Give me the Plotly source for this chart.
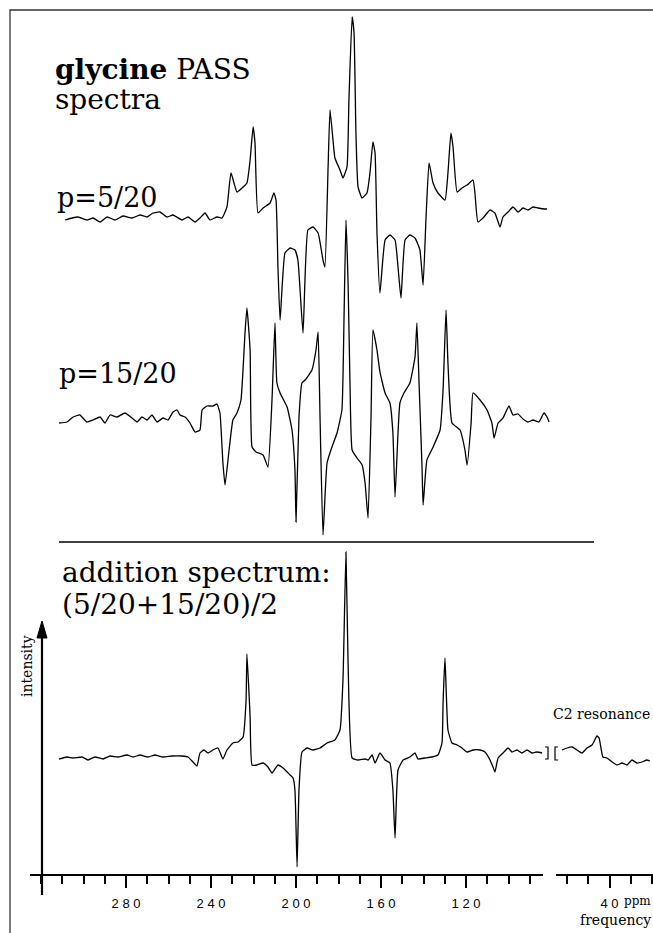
import plotly.graph_objects as go

W, H = 653, 933

# ---------------- data (ppm, intensity in arbitrary units) ----------------
# PASS spectrum p = 5/20 (top)
p5_ppm = [308.7, 305.4, 302.6, 298.4, 295.5, 292.2, 288.9, 285.2, 281.4, 277.2,
          273.4, 270.1, 267.3, 264.0, 260.7, 257.9, 253.7, 250.8, 247.5, 245.2,
          242.8, 240.5, 237.2, 234.8, 232.5, 230.6, 227.8, 225.4, 223.1, 221.6,
          220.2, 219.3, 217.9, 215.5, 212.2, 210.4, 209.4, 208.5, 207.5, 205.2,
          202.8, 200.5, 199.1, 196.7, 194.4, 192.0, 189.6, 187.3, 186.4, 184.9,
          184.0, 182.6, 181.7, 179.3, 177.9, 176.0, 175.1, 173.6, 172.7, 171.8,
          170.8, 168.9, 166.6, 165.2, 163.8, 162.8, 161.9, 160.5, 158.1, 155.8,
          153.4, 152.0, 150.6, 148.7, 146.4, 144.0, 141.7, 140.2, 138.8, 137.4,
          135.5, 133.2, 129.9, 128.5, 127.1, 126.1, 124.2, 121.9, 119.5, 116.7,
          115.8, 114.4, 112.0, 108.7, 106.4, 104.0, 102.6, 100.2, 97.9, 95.5,
          93.2, 90.8, 88.5, 86.1, 82.8, 81.9]
p5_int = [-2, 0, 1, -2, 0, -4, 1, -2, 2, 0,
          3, 1, 5, 6, 1, 3, -2, 1, -4, 0,
          5, -2, 1, 0, 11, 45, 26, 30, 35, 58,
          91, 75, 5, 10, 15, 25, 18, -49, -102, -35,
          -30, -32, -42, -115, -12, -9, -15, -42, -49, 51,
          108, 78, 60, 48, 40, 51, 118, 201, 185, 85,
          31, 20, 25, 45, 76, 65, -15, -75, -22, -17,
          -22, -49, -80, -22, -17, -20, -32, -67, 1, 55,
          35, 25, 18, 45, 85, 71, 26, 30, 33, 38,
          25, -4, 0, 8, 5, -9, 1, 6, 11, 6,
          10, 8, 11, 10, 9, 9]

# PASS spectrum p = 15/20 (middle)
p15_ppm = [311.5, 307.8, 304.9, 301.7, 298.4, 295.5, 292.2, 289.9, 287.5, 284.2,
           280.5, 277.2, 274.8, 272.5, 270.1, 267.8, 265.4, 262.6, 260.2, 257.9,
           256.0, 254.6, 252.2, 249.9, 247.5, 245.2, 244.2, 241.9, 239.1, 237.2,
           235.8, 234.4, 233.4, 231.5, 229.7, 227.8, 225.9, 224.0, 223.1, 221.6,
           220.7, 218.8, 215.5, 213.2, 211.3, 209.9, 209.0, 207.5, 204.2, 201.9,
           200.5, 200.0, 198.6, 197.2, 195.7, 192.5, 190.6, 189.6, 188.7, 187.3,
           185.4, 183.1, 180.7, 178.4, 177.4, 176.5, 175.5, 174.6, 173.6, 171.3,
           168.9, 167.5, 166.1, 164.7, 163.8, 161.9, 160.5, 158.1, 155.8, 154.4,
           153.4, 152.0, 151.1, 149.2, 146.4, 144.0, 143.1, 142.1, 140.7, 140.2,
           138.4, 135.5, 132.2, 130.8, 129.4, 128.5, 126.6, 122.8, 120.5, 119.5,
           117.6, 116.7, 113.4, 110.1, 107.8, 106.8, 104.9, 102.6, 99.8, 97.9,
           95.5, 93.2, 90.8, 88.5, 85.7, 83.3, 81.9, 80.9]
p15_int = [-1, 0, 5, 7, 0, 2, 5, -1, 7, 5,
           9, 4, 0, 5, 2, 7, 0, 4, 2, 10,
           12, 7, 5, -1, -10, -8, 12, 16, 16, 18,
           9, -41, -63, -28, 2, 9, 22, 89, 114, 72,
           -25, -30, -33, -45, 22, 99, 39, 29, 15, -8,
           -48, -100, 5, 39, 42, 52, 72, 90, 5, -113,
           -41, -25, -11, 12, 105, 202, 139, 39, -28, -36,
           -43, -61, -96, 5, 92, 72, 50, 29, 19, -11,
           -75, -11, 19, 29, 39, 65, 99, 39, -45, -83,
           -38, -25, -8, 32, 112, 59, -1, -8, -28, -43,
           -1, 29, 22, 12, -1, -16, -1, 4, 16, 7,
           8, 3, 0, 2, 0, 9, 5, 0]

# addition spectrum (5/20 + 15/20)/2, main region (bottom)
add_ppm = [311.5, 307.8, 304.9, 300.7, 297.9, 294.6, 290.8, 287.5, 283.8, 279.5,
           276.7, 273.4, 269.6, 266.4, 262.6, 258.4, 253.7, 250.8, 248.5, 246.6,
           245.2, 243.3, 241.4, 239.1, 236.7, 234.4, 232.5, 229.7, 227.3, 224.9,
           223.5, 223.1, 221.6, 220.7, 218.4, 215.5, 213.2, 211.3, 209.9, 208.5,
           206.1, 202.8, 201.4, 200.5, 199.5, 198.6, 197.2, 194.8, 192.0, 188.7,
           185.4, 181.7, 179.3, 177.9, 176.5, 175.5, 173.6, 170.8, 167.5, 166.1,
           164.2, 162.8, 160.5, 158.1, 155.8, 154.4, 153.4, 152.0, 149.6, 146.4,
           144.0, 142.6, 139.3, 136.0, 133.2, 131.3, 130.8, 129.9, 128.5, 126.6,
           124.2, 121.9, 119.5, 116.7, 113.4, 111.1, 108.7, 107.3, 106.4, 104.9,
           102.6, 100.2, 98.4, 96.0, 93.7, 91.3, 88.9, 86.6, 84.2]
add_int = [-2, 0, -1, 0, -3, 0, -2, 1, 0, 2,
           0, 2, 0, 2, 0, 1, 1, 0, -5, -9,
           4, 7, 4, 7, 9, -2, 7, 14, 15, 20,
           57, 103, 40, -8, -8, -6, -10, -16, -12, -8,
           -11, -18, -21, -33, -110, -33, 5, 9, 7, 9,
           14, 17, 27, 77, 205, 94, -1, -3, -2, -3,
           2, -6, 4, -3, -6, -33, -81, -13, -3, 0,
           4, -2, -1, 0, 2, 14, 54, 99, 27, 14,
           12, 9, 5, 7, 7, 5, -3, -10, -15, -1,
           4, 9, 5, 7, 4, 7, 4, 5, 4]

# addition spectrum, C2 region (after axis break)
c2_ppm = [62.4, 60.0, 57.6, 55.3, 52.9, 50.6, 48.2, 45.9, 44.9, 43.1,
          41.2, 38.8, 36.5, 34.1, 31.8, 29.4, 27.1, 24.7, 22.4, 21.0]
c2_int = [7, 9, 10, 7, 4, 9, 12, 21, 19, 0,
          -1, -5, -8, -6, -8, -3, -6, -5, -3, -4]

main_ticks = [280, 240, 200, 160, 120]
c2_ticks = [40]

# ---------------- layout helpers (pixel -> paper) ----------------
def px(x):
    return x / W


def py(y):
    return 1 - y / H


PX_PER_PPM = 2.125
PPM_AT_LEFT = 339.3
BASE_TOP, BASE_MID, BASE_BOT = 218, 422, 757
AXIS_Y = 875

line = dict(color="black", width=1.3, shape="spline", smoothing=0.4)

fig = go.Figure()
fig.add_trace(go.Scatter(x=p5_ppm, y=p5_int, mode="lines", line=line,
                         xaxis="x", yaxis="y", hoverinfo="skip"))
fig.add_trace(go.Scatter(x=p15_ppm, y=p15_int, mode="lines", line=line,
                         xaxis="x", yaxis="y2", hoverinfo="skip"))
fig.add_trace(go.Scatter(x=add_ppm, y=add_int, mode="lines", line=line,
                         xaxis="x3", yaxis="y3", hoverinfo="skip"))
fig.add_trace(go.Scatter(x=c2_ppm, y=c2_int, mode="lines", line=line,
                         xaxis="x2", yaxis="y3", hoverinfo="skip"))


def yax(base):
    return dict(domain=[0, 1], range=[-(H - base), base], visible=False,
                fixedrange=True)


tickfont = dict(family="Liberation Sans, Arial, sans-serif", size=13, color="black")
minor = dict(tickmode="linear", tick0=0, dtick=10, ticks="outside", ticklen=8,
             tickwidth=2, tickcolor="black", showgrid=False)

common_x = dict(anchor="free", position=py(AXIS_Y),
                showline=True, linecolor="black", linewidth=2,
                showgrid=False, zeroline=False, tickmode="array",
                ticks="outside", ticklen=12, tickwidth=2, tickcolor="black",
                ticklabelstandoff=4, tickfont=tickfont, minor=minor,
                fixedrange=True)

fig.update_layout(
    width=W, height=H,
    margin=dict(l=0, r=0, t=0, b=0),
    paper_bgcolor="white", plot_bgcolor="rgba(0,0,0,0)",
    showlegend=False,
    xaxis=dict(domain=[0, 1], range=[PPM_AT_LEFT, PPM_AT_LEFT - W / PX_PER_PPM],
               visible=False, anchor="y", fixedrange=True),
    xaxis3=dict(domain=[px(30), px(543)],
                range=[PPM_AT_LEFT - 30 / PX_PER_PPM, PPM_AT_LEFT - 543 / PX_PER_PPM],
                tickvals=main_ticks,
                ticktext=[" ".join(str(v)) for v in main_ticks],
                **common_x),
    xaxis2=dict(domain=[px(556), 1],
                range=[40 + (609.5 - 556) / PX_PER_PPM, 40 - (W - 609.5) / PX_PER_PPM],
                tickvals=c2_ticks,
                ticktext=[" ".join(str(v)) for v in c2_ticks],
                **common_x),
    yaxis=dict(**yax(BASE_TOP), anchor="x"),
    yaxis2=dict(**yax(BASE_MID), anchor="x"),
    yaxis3=dict(**yax(BASE_BOT), anchor="x3"),
)

# ---------------- decorations ----------------
shapes = []
# frame (top and left edges of the original figure box)
shapes.append(dict(type="path", xref="paper", yref="paper",
                   path=f"M {px(10)} {py(H + 5)} L {px(10)} {py(10)} L {px(W + 5)} {py(10)}",
                   line=dict(color="#333333", width=1.3)))
# separator line
shapes.append(dict(type="line", xref="paper", yref="paper",
                   x0=px(59), x1=px(594), y0=py(542), y1=py(542),
                   line=dict(color="black", width=1.6)))
# intensity arrow shaft and head
shapes.append(dict(type="line", xref="paper", yref="paper",
                   x0=px(42), x1=px(42), y0=py(895), y1=py(634),
                   line=dict(color="black", width=2.2)))
shapes.append(dict(type="path", xref="paper", yref="paper",
                   path=f"M {px(37)} {py(638)} L {px(42)} {py(621)} L {px(47)} {py(638)} Z",
                   fillcolor="black", line=dict(color="black", width=1)))
# axis-break brackets on the spectrum
shapes.append(dict(type="path", xref="paper", yref="paper",
                   path=f"M {px(545)} {py(747)} L {px(548)} {py(747)} L {px(548)} {py(759)} L {px(545)} {py(759)}",
                   line=dict(color="black", width=1.2)))
shapes.append(dict(type="path", xref="paper", yref="paper",
                   path=f"M {px(558)} {py(747)} L {px(555)} {py(747)} L {px(555)} {py(760)} L {px(558)} {py(760)}",
                   line=dict(color="black", width=1.2)))
fig.update_layout(shapes=shapes)

SERIF = "DejaVu Serif, serif"


def label(text, x, baseline, size, family=SERIF, angle=0):
    if angle == 0:
        fig.add_annotation(text=text, xref="paper", yref="paper",
                           x=px(x - 2), y=py(baseline - 0.346 * size),
                           xanchor="left", yanchor="middle", showarrow=False,
                           font=dict(family=family, size=size, color="black"))
    else:
        fig.add_annotation(text=text, xref="paper", yref="paper",
                           x=px(x), y=py(baseline), textangle=angle,
                           xanchor="center", yanchor="middle", showarrow=False,
                           font=dict(family=family, size=size, color="black"))


label("<b>glycine</b> PASS", 55, 79, 28)
label("spectra", 55, 109, 28)
label("p=5/20", 57, 207, 27)
label("p=15/20", 59, 383, 27)
label("addition spectrum:", 62, 582, 28)
label("(5/20+15/20)/2", 62, 614, 28)
label("C2 resonance", 553, 719, 14)
label("intensity", 27, 666, 14, angle=-90)
label("ppm", 624, 905, 12)
label("frequency", 580, 925, 14)

fig.write_html(
    "out.html",
    config={"displayModeBar": False, "staticPlot": True},
    post_script="document.body.style.margin='0';"
                "document.body.style.overflow='hidden';",
)
